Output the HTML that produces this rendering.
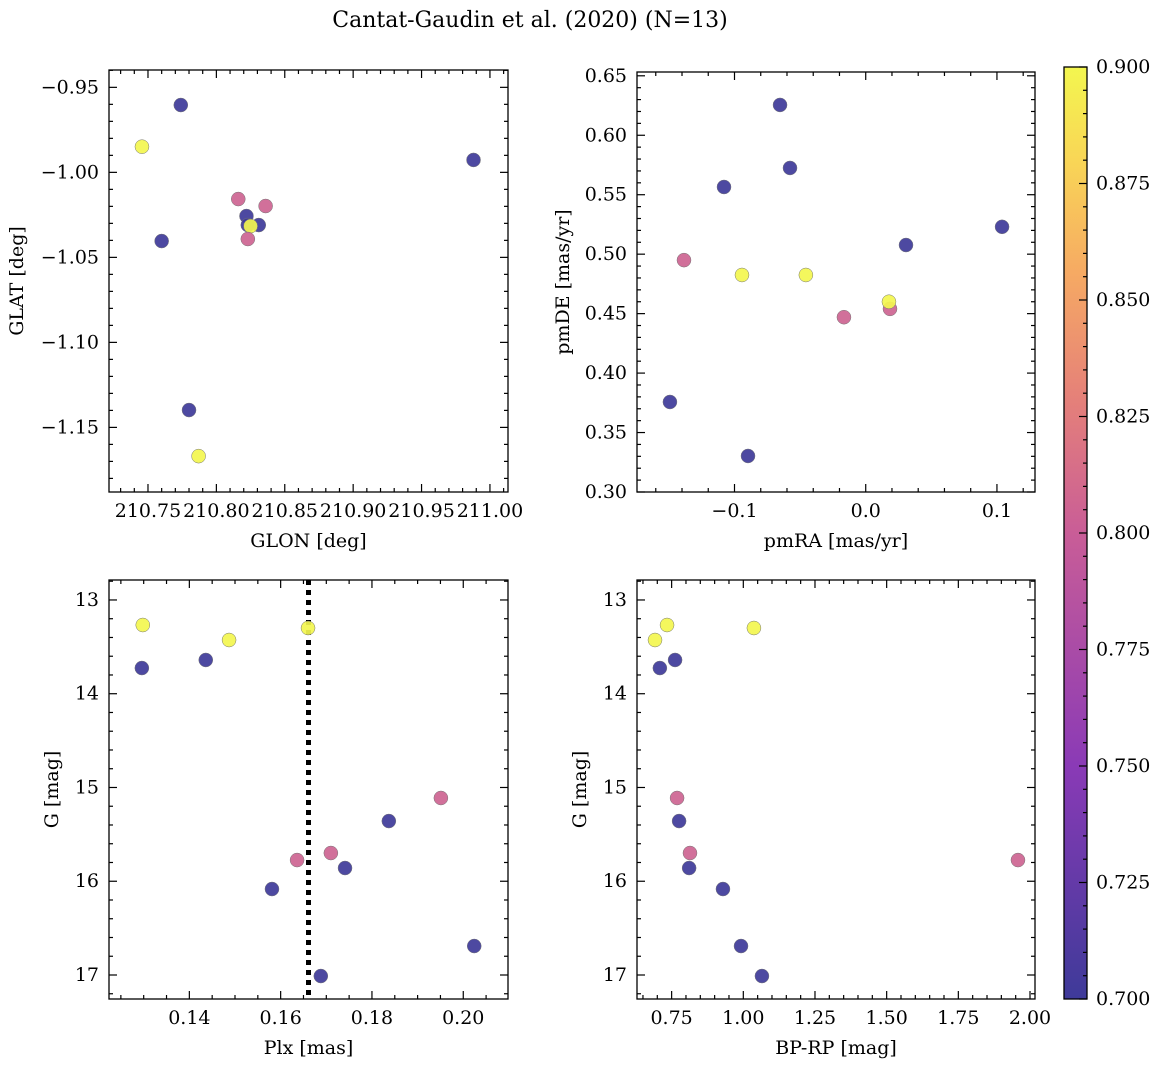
<!DOCTYPE html>
<html><head><meta charset="utf-8"><style>
html,body{margin:0;padding:0;background:#fff;}
svg{display:block;font-family:"DejaVu Serif","Liberation Serif",serif;}
</style></head><body>
<svg id="fig" width="1161" height="1067" viewBox="0 0 1161 1067">
<defs><linearGradient id="cmap" x1="0" y1="1" x2="0" y2="0">
<stop offset="0" stop-color="#3e3a99"/><stop offset="0.25" stop-color="#8a3ab6"/><stop offset="0.5" stop-color="#c95d97"/>
<stop offset="0.65" stop-color="#e68278"/><stop offset="0.78" stop-color="#f6aa63"/><stop offset="0.9" stop-color="#f9d656"/><stop offset="1" stop-color="#f3f64f"/>
</linearGradient></defs>
<text x="530" y="27" text-anchor="middle" font-size="22">Cantat-Gaudin et al. (2020) (N=13)</text>
</svg>
<script>
// per-star data (13 stars)
const prob  = [0.70,0.90,0.70,0.70,0.80,0.80,0.70,0.70,0.70,0.90,0.80,0.70,0.90];
const glon  = [210.774,210.7456,210.988,210.760,210.816,210.836,210.822,210.831,210.823,210.825,210.823,210.780,210.787];
const glat  = [-0.9604,-0.9849,-0.9927,-1.0404,-1.0157,-1.0198,-1.0257,-1.0310,-1.0310,-1.0316,-1.0392,-1.1398,-1.1669];
const pmra  = [-0.0653,-0.0943,-0.0577,-0.108,0.0185,-0.1385,0.1039,0.0307,-0.1492,-0.0456,-0.0166,-0.0897,0.0177];
const pmde  = [0.6255,0.4825,0.5725,0.5565,0.454,0.495,0.523,0.5077,0.3757,0.4825,0.447,0.3303,0.46];
const plx   = [0.1296,0.1298,0.1436,0.1581,0.1636,0.1951,0.1837,0.1741,0.2024,0.1487,0.1710,0.1688,0.1660];
const gmag  = [13.726,13.267,13.640,16.083,15.774,15.112,15.358,15.859,16.691,13.427,15.699,17.011,13.299];
const bprp  = [0.709,0.734,0.762,0.929,1.958,0.769,0.776,0.811,0.992,0.692,0.814,1.065,1.037];
const cbTicks = [0.700,0.725,0.750,0.775,0.800,0.825,0.850,0.875,0.900];
const NS="http://www.w3.org/2000/svg";
const svg=document.getElementById('fig');
function mk(tag,attrs,parent){const e=document.createElementNS(NS,tag);for(const k in attrs)e.setAttribute(k,attrs[k]);(parent||svg).appendChild(e);return e;}
const stops=[[0.70,[62,58,153]],[0.75,[138,58,182]],[0.80,[205,100,145]],[0.83,[230,130,120]],[0.856,[246,170,99]],[0.88,[249,214,86]],[0.90,[243,246,79]]];
function cmap(v){for(let i=0;i<stops.length-1;i++){const a=stops[i],b=stops[i+1];if(v<=b[0]){const t=Math.max(0,(v-a[0])/(b[0]-a[0]));return 'rgb('+a[1].map((c,j)=>Math.round(c+(b[1][j]-c)*t)).join(',')+')';}}return 'rgb(243,246,79)';}
function fmt(v,d){const s=Math.abs(v).toFixed(d);return (v<-1e-9?'\u2212':'')+s;}
const FS=19;
function panel(o){
  const g=mk('g',{});
  
  
  const X=v=>o.x0+(v-o.xmin)/(o.xmax-o.xmin)*(o.x1-o.x0);
  const Y=v=>o.inv? o.y0+(v-o.ymin)/(o.ymax-o.ymin)*(o.y1-o.y0) : o.y1-(v-o.ymin)/(o.ymax-o.ymin)*(o.y1-o.y0);
  const lo=Math.min(o.xmin,o.xmax),hi=Math.max(o.xmin,o.xmax);
  for(let v=Math.ceil(lo/o.xminor-1e-6)*o.xminor;v<=hi+1e-9;v+=o.xminor){
    const px=X(v);const maj=Math.abs(v/o.xmajor-Math.round(v/o.xmajor))<1e-4;const L=maj?8:4;
    mk('line',{x1:px,x2:px,y1:o.y1,y2:o.y1-L,stroke:'#000','stroke-width':1.2},g);
    mk('line',{x1:px,x2:px,y1:o.y0,y2:o.y0+L,stroke:'#000','stroke-width':1.2},g);
    if(maj){const t=mk('text',{x:px,y:o.y1+25,'text-anchor':'middle','font-size':FS},g);t.textContent=fmt(v,o.xd);
      
      }
  }
  const ylo=Math.min(o.ymin,o.ymax),yhi=Math.max(o.ymin,o.ymax);
  for(let v=Math.ceil(ylo/o.yminor-1e-6)*o.yminor;v<=yhi+1e-9;v+=o.yminor){
    const py=Y(v);const maj=Math.abs(v/o.ymajor-Math.round(v/o.ymajor))<1e-4;const L=maj?8:4;
    mk('line',{x1:o.x0,x2:o.x0+L,y1:py,y2:py,stroke:'#000','stroke-width':1.2},g);
    mk('line',{x1:o.x1,x2:o.x1-L,y1:py,y2:py,stroke:'#000','stroke-width':1.2},g);
    if(maj){const t=mk('text',{x:o.x0-10,y:py+6,'text-anchor':'end','font-size':FS},g);t.textContent=fmt(v,o.yd);
      
      }
  }
  if(o.vline!==undefined){const l=mk('line',{x1:X(o.vline),x2:X(o.vline),y1:o.y0,y2:o.y1,stroke:'#000','stroke-width':5,'stroke-dasharray':'5 5'},g);
    
    }
  prob.forEach((p,i)=>{
    const c=mk('circle',{cx:X(o.xs[i]),cy:Y(o.ys[i]),r:7,fill:cmap(prob[i]),'fill-opacity':0.92,stroke:'#777','stroke-width':0.5},g);
    
    
  });
  mk('rect',{x:o.x0,y:o.y0,width:o.x1-o.x0,height:o.y1-o.y0,fill:'none',stroke:'#000','stroke-width':1.3},g);
  const xl=mk('text',{x:(o.x0+o.x1)/2,y:o.y1+55,'text-anchor':'middle','font-size':FS},g);xl.textContent=o.xlabel;
  
  
  const yc=(o.y0+o.y1)/2;
  const yl=mk('text',{x:o.ylx,y:yc,'text-anchor':'middle','font-size':FS,transform:`rotate(-90 ${o.ylx} ${yc})`},g);yl.textContent=o.ylabel;
  
  
}
panel({name:'glon-glat-panel',x0:109,x1:508,y0:70,y1:492,xmin:210.7215,xmax:211.0132,ymin:-1.188,ymax:-0.9398,
  xmajor:0.05,xminor:0.01,xd:2,ymajor:0.05,yminor:0.01,yd:2,xs:glon,ys:glat,xlabel:'GLON [deg]',ylabel:'GLAT [deg]',ylx:23});
panel({name:'proper-motion-panel',x0:637,x1:1035,y0:72,y1:492,xmin:-0.1743,xmax:0.1290,ymin:0.30,ymax:0.6532,
  xmajor:0.1,xminor:0.02,xd:1,ymajor:0.05,yminor:0.01,yd:2,xs:pmra,ys:pmde,xlabel:'pmRA [mas/yr]',ylabel:'pmDE [mas/yr]',ylx:569});
panel({name:'parallax-magnitude-panel',x0:109,x1:508,y0:580,y1:999,xmin:0.1224,xmax:0.2098,ymin:12.787,ymax:17.256,inv:true,
  xmajor:0.02,xminor:0.005,xd:2,ymajor:1,yminor:0.2,yd:0,xs:plx,ys:gmag,xlabel:'Plx [mas]',ylabel:'G [mag]',ylx:58,vline:0.1661});
panel({name:'color-magnitude-panel',x0:637,x1:1035,y0:580,y1:999,xmin:0.6292,xmax:2.0174,ymin:12.787,ymax:17.256,inv:true,
  xmajor:0.25,xminor:0.05,xd:2,ymajor:1,yminor:0.2,yd:0,xs:bprp,ys:gmag,xlabel:'BP-RP [mag]',ylabel:'G [mag]',ylx:586});
// colorbar
const cb=mk('g',{});


const cx0=1064,cx1=1087,cy0=67,cy1=999;
mk('rect',{x:cx0,y:cy0,width:cx1-cx0,height:cy1-cy0,fill:'url(#cmap)',stroke:'#000','stroke-width':1.3},cb);
const CY=v=>cy1-(v-0.70)/0.20*(cy1-cy0);
for(let v=0.70;v<=0.9001;v+=0.005){const py=CY(v);const maj=Math.abs(v/0.025-Math.round(v/0.025))<1e-4;
  mk('line',{x1:cx1,x2:cx1-(maj?8:4),y1:py,y2:py,stroke:'#000','stroke-width':1.2},cb);}
cbTicks.forEach(v=>{const t=mk('text',{x:cx1+9,y:CY(v)+6,'font-size':FS},cb);t.textContent=v.toFixed(3);
  
  });
</script>
</body></html>
